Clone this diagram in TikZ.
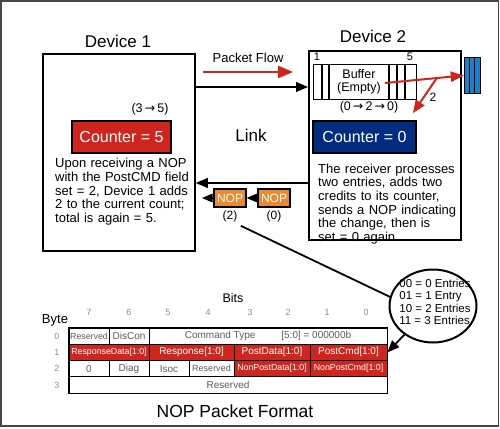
\documentclass[tikz,border=0pt]{standalone}
\usepackage{fontspec}
\setmainfont{Liberation Sans}
\newfontfamily\arrowfont{DejaVu Sans}
\usepackage{tikz}
\usetikzlibrary{arrows,shapes,positioning}
\usepackage{xcolor}
\definecolor{nopred}{RGB}{206,38,30}
\definecolor{nopnavy}{RGB}{0,44,128}
\definecolor{noporange}{RGB}{232,138,50}
\definecolor{nopblue}{RGB}{28,128,198}
\definecolor{nopgray}{RGB}{90,90,90}
\definecolor{framegray}{RGB}{70,70,70}
\newcommand{\fsz}[1]{\fontsize{#1}{#1}\selectfont}
\newcommand{\flowarrow}{{\arrowfont\,→\,}}
\tikzstyle{arrow} = [line width=1.8pt,->,>=triangle 45]
\tikzstyle{device} = [rectangle, draw=black, line width=1.8pt, inner sep=0pt, anchor=north west]
\tikzstyle{counter} = [rectangle, draw=black, line width=1.8pt, text=white, font=\fsz{16}, minimum height=32pt]
\tikzstyle{nop} = [rectangle, draw=black, line width=1.2pt, fill=noporange, text=white, font=\fsz{12}, minimum width=32pt, minimum height=18pt, inner sep=0pt]
\tikzstyle{note} = [font=\fontsize{13}{13.7}\selectfont, align=left, anchor=north west, inner sep=0pt]
\tikzstyle{cell} = [rectangle, draw=black, line width=1pt, inner sep=0pt, minimum height=16.25pt, text=nopgray, font=\fsz{10}]
\tikzstyle{redcell} = [cell, fill=nopred, text=white]
\tikzstyle{idx} = [font=\fsz{9}, text=black!45]

\begin{document}
\begin{tikzpicture}[x=1pt,y=-1pt]
\useasboundingbox (0,0) rectangle (500,428);
\draw[framegray, line width=1.5pt] (1,1) rectangle (498.5,426);

% Devices
\node (dev1) [device, minimum width=152pt, minimum height=197pt] at (42,53) {};
\node (dev2) [device, minimum width=152pt, minimum height=189pt] at (308,50) {};
\node (dev1lbl) [font=\fsz{17}, anchor=base] at (118,48) {Device 1};
\node (dev2lbl) [font=\fsz{17}, anchor=base] at (373,42) {Device 2};

% Counters
\node (chg1) [font=\fsz{12.5}] at (150,109) {(3\flowarrow5)};
\node (cnt1) [counter, fill=nopred, minimum width=99pt] at (121.5,137) {Counter = 5};
\node (chg2) [font=\fsz{12.5}] at (369,107) {(0\flowarrow2\flowarrow0)};
\node (cnt2) [counter, fill=nopnavy, minimum width=103pt] at (364.5,137) {Counter = 0};

\node (dev1txt) [note, text width=140pt] at (55,158) {Upon receiving a NOP\\with the PostCMD field\\set = 2, Device 1 adds\\2 to the current count;\\total is again = 5.};
\node (dev2txt) [note, text width=140pt] at (318,163.5) {The receiver processes\\two entries, adds two\\credits to its counter,\\sends a NOP indicating\\the change, then is\\set = 0 again.};

% Buffer and credit store
\node (buffer) [draw, line width=1.4pt, minimum width=103pt, minimum height=35pt, inner sep=0pt, anchor=north west] at (313,64) {};
\foreach \x in {322,329,389,397,405}
  \draw[line width=1.2pt] (\x,64) -- (\x,99);
\node (buftxt) [font=\fontsize{12.5}{13.5}\selectfont, align=center] at (359,82) {Buffer\\(Empty)};
\node (slot1) [font=\fsz{11}] at (317,57) {1};
\node (slot5) [font=\fsz{11}] at (410,57) {5};
\node (store) [draw, fill=nopblue, line width=1pt, minimum width=16pt, minimum height=35pt, inner sep=0pt] at (472,75.5) {};
\draw[line width=1.4pt] ([xshift=-2.5pt]store.north) -- ([xshift=-2.5pt]store.south)
  ([xshift=2.5pt]store.north) -- ([xshift=2.5pt]store.south);

\coordinate (bufout) at (385,83);
\coordinate (credit) at (413,113);
\draw[arrow, nopred, line width=2pt] (bufout) -- coordinate[pos=0.66] (split) (store.west);
\draw[arrow, nopred, line width=2pt] (split) -- (credit);
\node (creditlbl) [font=\fsz{12}] at (433,97) {2};

% Link
\node (flowlbl) [font=\fsz{13}] at (248,58) {Packet Flow};
\coordinate (flowtail) at (203,72);
\coordinate (flowhead) at (293,72);
\draw[arrow, nopred, line width=2.5pt] (flowtail) -- (flowhead);
\node (link) [font=\fsz{17}] at (251,135) {Link};
\coordinate (txrow) at (0,87);
\coordinate (rxrow) at (0,183);
\draw[arrow] (dev1.east |- txrow) -- (dev2.west |- txrow);
\draw[arrow] (dev2.west |- rxrow) -- (dev1.east |- rxrow);

% NOPs on the link
\node (nop2) [nop] at (230,198) {NOP};
\node (nop0) [nop] at (274,198) {NOP};
\node (nop2lbl) [font=\fsz{12}, below=0pt of nop2] {(2)};
\node (nop0lbl) [font=\fsz{12}, below=0pt of nop0] {(0)};
\coordinate (nopout) at (202,198);
\draw[arrow, line width=1.5pt] (nop0) -- (nop2);
\draw[arrow, line width=1.5pt] (nop2) -- (nopout);

% Entry codes
\node (states) [ellipse, draw, line width=2pt, minimum width=87pt, minimum height=73pt, inner sep=0pt] at (433,306) {};
\node (statestxt) [font=\fontsize{11.5}{12.4}\selectfont, align=left, inner sep=0pt] at (435,302) {00 = 0 Entries\\01 = 1 Entry\\10 = 2 Entries\\11 = 3 Entries};
\draw[line width=1.8pt] (nop2lbl.south east) -- (states.168);

% NOP packet format
\node (bits) [font=\fsz{12.5}] at (233,298) {Bits};
\node (byte) [font=\fsz{13}] at (55,320) {Byte};
\foreach \b/\x in {7/89,6/129,5/168,4/208,3/250,2/288,1/327,0/366}
  \node (bit\b) [idx] at (\x,312) {\b};
\foreach \r/\y in {0/336.1,1/352.4,2/368.6,3/384.9}
  \node (byte\r) [idx] at (57,\y) {\r};

\node (r0a) [cell, minimum width=40pt, font=\fsz{8.8}] at (89,336.125) {Reserved};
\node (r0b) [cell, minimum width=40pt] at (129,336.125) {DisCon};
\node (r0c) [cell, minimum width=238pt] at (268,336.125) {Command Type\hspace{26pt}[5:0] = 000000b};

\node (r1a) [redcell, minimum width=80pt, font=\fsz{8.8}] at (109,352.375) {ResponseData[1:0]};
\node (r1b) [redcell, minimum width=85pt] at (191.5,352.375) {Response[1:0]};
\node (r1c) [redcell, minimum width=76pt] at (272,352.375) {PostData[1:0]};
\node (r1d) [redcell, minimum width=77pt] at (348.5,352.375) {PostCmd[1:0]};

\node (r2a) [cell, minimum width=40pt] at (89,368.625) {0};
\node (r2b) [cell, minimum width=40pt] at (129,368.625) {Diag};
\node (r2c) [cell, minimum width=40pt] at (169,368.625) {Isoc};
\node (r2d) [cell, minimum width=45pt, font=\fsz{9}] at (211.5,368.625) {Reserved};
\node (r2e) [redcell, minimum width=76pt, font=\fsz{8.8}] at (272,368.625) {NonPostData[1:0]};
\node (r2f) [redcell, minimum width=77pt, font=\fsz{8.8}] at (348.5,368.625) {NonPostCmd[1:0]};

\node (r3) [cell, minimum width=318pt] at (228,384.875) {Reserved};
\draw[line width=1.8pt] (r0a.north west) rectangle (r3.south east);

\draw[arrow] (states.225) -- (r1d.east);

\node (title) [font=\fsz{17.5}] at (235,411) {NOP Packet Format};
\end{tikzpicture}
\end{document}
